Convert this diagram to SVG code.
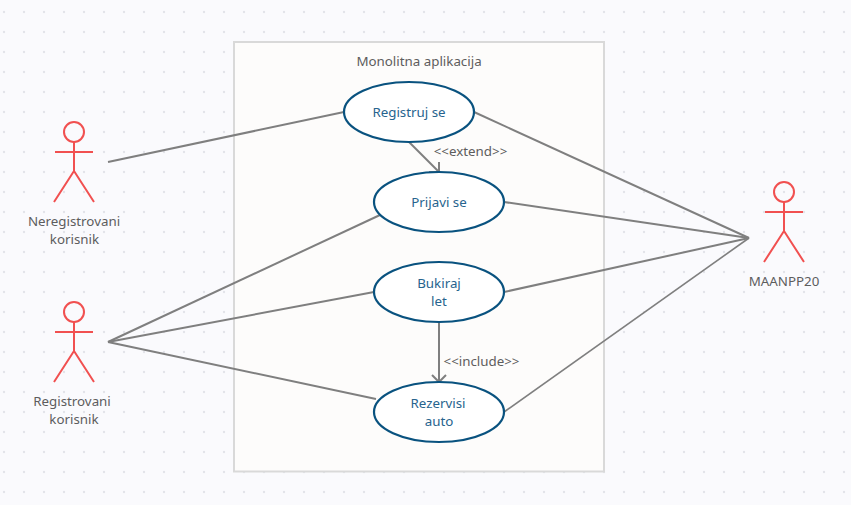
<svg xmlns="http://www.w3.org/2000/svg" width="851" height="505" viewBox="0 0 851 505">
<defs>
<pattern id="dots" x="4" y="12" width="20" height="20" patternUnits="userSpaceOnUse"><circle cx="0" cy="0" r="1.2" fill="#e3e4ea"/><circle cx="20" cy="0" r="1.2" fill="#e3e4ea"/><circle cx="0" cy="20" r="1.2" fill="#e3e4ea"/><circle cx="20" cy="20" r="1.2" fill="#e3e4ea"/></pattern>
<g id="actor" fill="none" stroke="#f15050" stroke-width="2"><circle cx="0" cy="0" r="10"/><path d="M0 10V39M-19 20H19M0 39L-20 70M0 39L20 70"/></g>
<marker id="open" markerUnits="userSpaceOnUse" markerWidth="20" markerHeight="20" refX="14" refY="8" orient="auto"><path d="M7 1L14 8L7 15" fill="none" stroke="#7f7f7f" stroke-width="2"/></marker>
</defs>
<style>
text{font-family:"Noto Sans","Open Sans",sans-serif;font-size:13.33px;text-anchor:middle}
.a{fill:#5d5d5d}.u{fill:#27648e}
.c{stroke:#7f7f7f;stroke-width:2;fill:none}
.e{fill:#fff;stroke:#09527f;stroke-width:2.2}
</style>
<rect width="851" height="505" fill="#fafafd"/>
<rect width="851" height="505" fill="url(#dots)"/>
<g id="boundary"><rect x="234" y="42" width="370" height="429.500" fill="#fdfcfb" stroke="#d9d9d9" stroke-width="2"/><text class="a" x="419" y="66">Monolitna aplikacija</text></g>
<g id="connectors">
<path class="c" d="M108 162L344 112"/>
<path class="c" d="M108 342L380 215"/>
<path class="c" d="M108 342L374 292"/>
<path class="c" d="M108 342L376 399"/>
<path class="c" d="M474 112L749 238"/>
<path class="c" d="M504 202L749 238"/>
<path class="c" d="M504 292L749 238"/>
<path class="c" style="stroke-width:1.6" d="M504 412L749 238"/>
<path class="c" d="M409 142L439 172" marker-end="url(#open)"/>
<path class="c" d="M439 322V382" marker-end="url(#open)"/>
<text class="a" x="470.500" y="156">&lt;&lt;extend&gt;&gt;</text>
<text class="a" x="481.500" y="366">&lt;&lt;include&gt;&gt;</text>
</g>
<g id="actor-neregistrovani"><use href="#actor" x="74" y="132"/><text class="a" x="74" y="226">Neregistrovani</text><text class="a" x="74.500" y="244">korisnik</text></g>
<g id="actor-registrovani"><use href="#actor" x="74" y="312"/><text class="a" x="72" y="406">Registrovani</text><text class="a" x="74" y="424">korisnik</text></g>
<g id="actor-maanpp20"><use href="#actor" x="784" y="192"/><text class="a" x="784" y="286">MAANPP20</text></g>
<g id="uc-registruj"><ellipse class="e" cx="409" cy="112" rx="65" ry="30"/><text class="u" x="409" y="117">Registruj se</text></g>
<g id="uc-prijavi"><ellipse class="e" cx="439" cy="202" rx="65" ry="30"/><text class="u" x="439" y="207">Prijavi se</text></g>
<g id="uc-bukiraj"><ellipse class="e" cx="439" cy="292" rx="65" ry="30"/><text class="u" x="439" y="288">Bukiraj</text><text class="u" x="439" y="306">let</text></g>
<g id="uc-rezervisi"><ellipse class="e" cx="439" cy="412" rx="65" ry="30"/><text class="u" x="438" y="408">Rezervisi</text><text class="u" x="439" y="426">auto</text></g>
</svg>
